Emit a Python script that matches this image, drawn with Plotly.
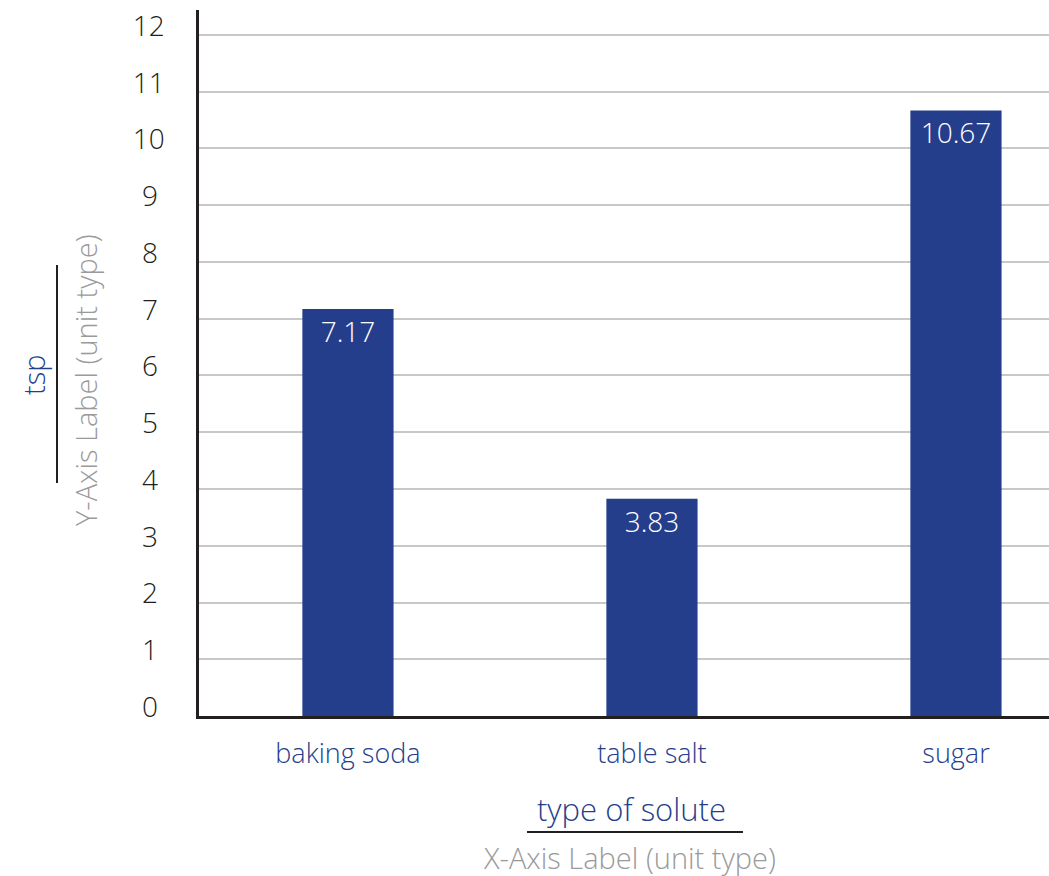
import plotly.graph_objects as go

categories = ["baking soda", "table salt", "sugar"]
values = [7.17, 3.83, 10.67]
value_labels = ["7.17", "3.83", "10.67"]
y_ticks = list(range(0, 13))
y_tick_labels = [str(t) if t >= 10 else str(t) + "\u2008" for t in y_ticks]
y_title = "tsp"
y_subtitle = "Y-Axis Label (unit type)"
x_title = "type of solute"
x_subtitle = "X-Axis Label (unit type)"

W, H = 1049, 876
ML, MR, MT, MB = 199, 0, 10, 160
PW, PH = W - ML - MR, H - MT - MB

def px(x):
    return (x - ML) / PW

def py(y):
    return (H - MB - y) / PH

BLUE = "#253e8c"
GRAY = "#9a9a9a"
DARK = "#231f20"
FONT = "Open Sans"

fig = go.Figure(go.Bar(
    x=categories, y=values, text=value_labels,
    marker=dict(color=BLUE, line=dict(width=0)),
    width=0.30,
    textposition="inside", insidetextanchor="end",
    textfont=dict(color="white", size=28, family=FONT, weight=300),
    textangle=0, hoverinfo="skip",
))

fig.update_layout(
    width=W, height=H,
    margin=dict(l=ML, r=MR, t=MT, b=MB, pad=0),
    paper_bgcolor="white", plot_bgcolor="white",
    showlegend=False,
    font=dict(family=FONT),
    xaxis=dict(
        range=[-0.49, 2.306], showline=True, linecolor=DARK, linewidth=2.5,
        showgrid=False, ticks="", ticklabelstandoff=12,
        tickfont=dict(color=BLUE, size=27, family=FONT, weight=300),
        fixedrange=True,
    ),
    yaxis=dict(
        range=[0, 12.44], tickvals=y_ticks, ticktext=y_tick_labels,
        showline=True, linecolor=DARK, linewidth=2.5,
        showgrid=True, gridcolor="#c8c8c8", gridwidth=2, zeroline=False,
        ticks="", ticklabelstandoff=26, ticklabelshift=-9,
        tickfont=dict(color=DARK, size=28, family=FONT, weight=300),
        fixedrange=True,
    ),
    annotations=[
        dict(text=y_title, x=px(33), y=py(375), xref="paper", yref="paper",
             textangle=-90, showarrow=False, xanchor="center", yanchor="middle",
             font=dict(color=BLUE, size=29, family=FONT, weight=300)),
        dict(text=y_subtitle, x=px(85), y=py(380), xref="paper", yref="paper",
             textangle=-90, showarrow=False, xanchor="center", yanchor="middle",
             font=dict(color=GRAY, size=29, family=FONT, weight=300)),
        dict(text=x_title, x=px(631), y=py(809), xref="paper", yref="paper",
             showarrow=False, xanchor="center", yanchor="middle",
             font=dict(color=BLUE, size=31, family=FONT, weight=300)),
        dict(text=x_subtitle, x=px(629), y=py(857), xref="paper", yref="paper",
             showarrow=False, xanchor="center", yanchor="middle",
             font=dict(color=GRAY, size=29, family=FONT, weight=300)),
    ],
    shapes=[
        dict(type="line", xref="paper", yref="paper", x0=px(57), x1=px(57),
             y0=py(265), y1=py(483), line=dict(color=DARK, width=2)),
        dict(type="line", xref="paper", yref="paper", x0=px(527), x1=px(743),
             y0=py(832), y1=py(832), line=dict(color=DARK, width=2)),
    ],
)

fig.write_html("out.html")
